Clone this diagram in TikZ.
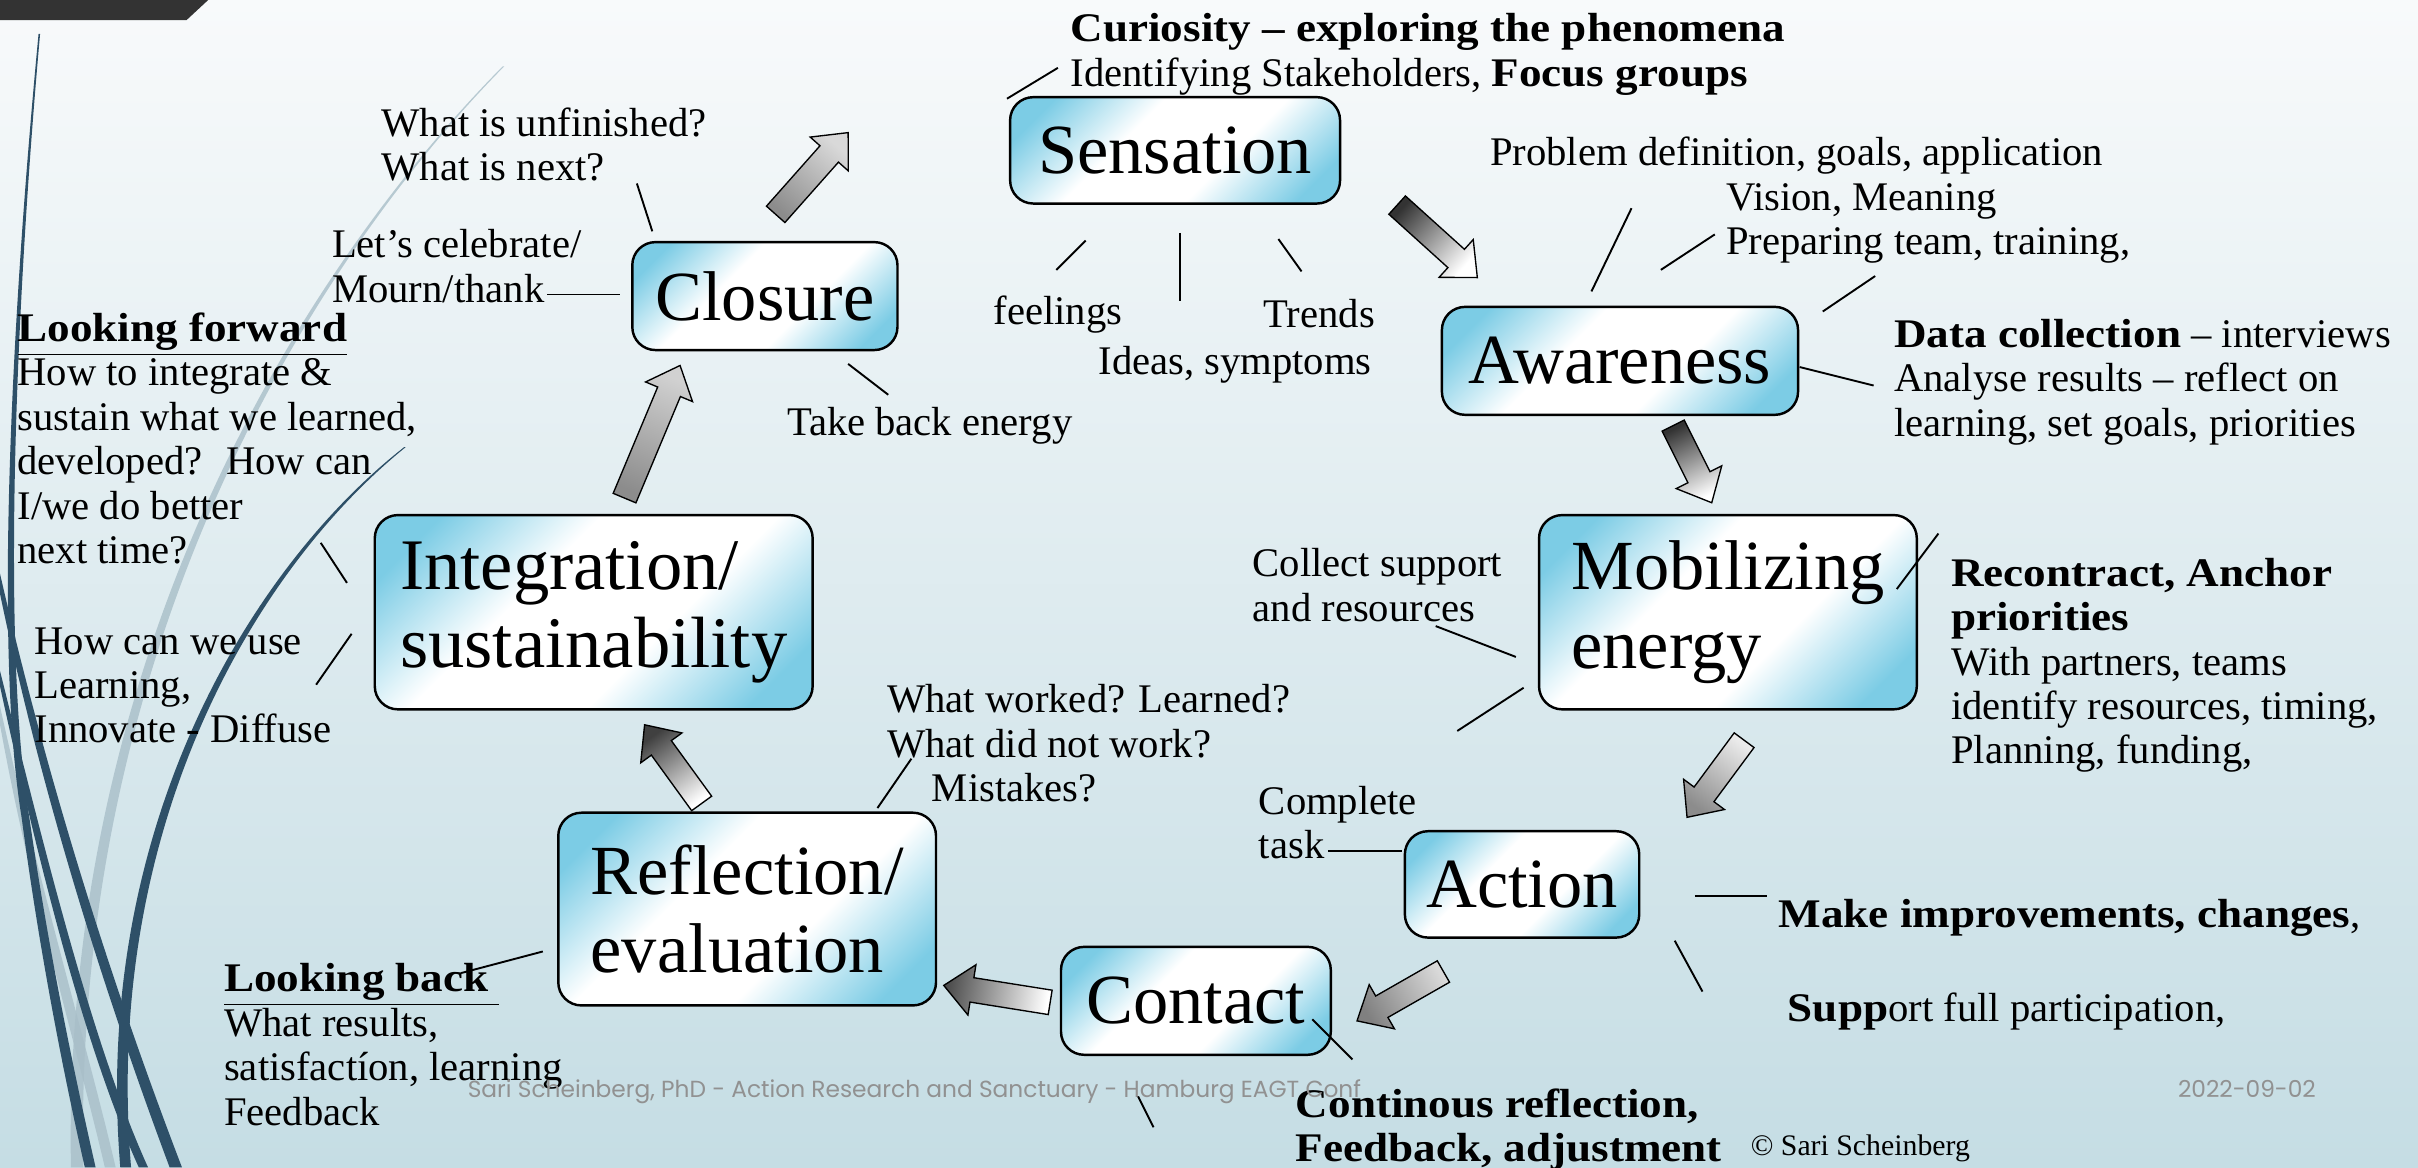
\documentclass[tikz,border=0pt]{standalone}
\usepackage{fontspec}
\setmainfont{Liberation Serif}[BoldFeatures={FakeStretch=1.11}]
\newfontfamily\footfont{Poppins}
\usetikzlibrary{calc}

\definecolor{bgtop}{RGB}{248,250,251}
\definecolor{bgmid}{RGB}{221,233,237}
\definecolor{bgbot}{RGB}{197,221,228}
\definecolor{stageblue}{RGB}{124,204,229}
\definecolor{swirldark}{RGB}{46,80,104}
\definecolor{swirllight}{RGB}{168,190,200}
\definecolor{tabgray}{RGB}{51,51,51}
\definecolor{footgray}{RGB}{145,145,145}

\pgfdeclarehorizontalshading{stageshade}{100bp}{color(0bp)=(stageblue); color(22bp)=(stageblue); color(40bp)=(white); color(60bp)=(white); color(78bp)=(stageblue); color(100bp)=(stageblue)}

\tikzset{
  stage/.style={draw=black, line width=0.9pt, rounded corners=0.3cm, shade, shading=stageshade,
    shading angle=-45, font=\fontsize{26}{29}\selectfont, align=left, inner sep=0pt},
  note/.style={font=\fontsize{15}{16.4}\selectfont, align=left, anchor=north west, inner sep=0pt},
  tick/.style={line width=0.7pt},
  flow/.style={draw=black, line width=0.5pt, line join=miter},
  footer/.style={font=\footfont\fontsize{8.6}{10}\selectfont, text=footgray, anchor=base west, inner sep=0pt},
}

% block arrow from a tail coordinate to a tip coordinate, shaded from tail colour to head colour
\newcommand\stagearrow[5]{%
  \draw[flow, bottom color=#3, top color=#4, shading angle=#5]
    ($(#1)!0.16cm!90:(#2)$)
    -- ($(#2)!0.37cm!(#1)!0.16cm!-90:(#1)$)
    -- ($(#2)!0.37cm!(#1)!0.33cm!-90:(#1)$)
    -- (#2)
    -- ($(#2)!0.37cm!(#1)!0.33cm!90:(#1)$)
    -- ($(#2)!0.37cm!(#1)!0.16cm!90:(#1)$)
    -- ($(#1)!0.16cm!-90:(#2)$)
    -- cycle;}

\begin{document}
\begin{tikzpicture}[x=0.02cm, y=-0.02cm]
\useasboundingbox (0,0) rectangle (1568,757);
\shade[top color=bgtop, middle color=bgmid, bottom color=bgbot] (0,0) rectangle (1568,757);

% decorative swirls on the left edge
\fill[swirllight, opacity=0.8] (326,43) .. controls (200,170) and (40,420) .. (46,757) -- (54,757) .. controls (47,420) and (201,171) .. (327,43) -- cycle;
\fill[swirllight, opacity=0.8] (0,470) .. controls (20,580) and (50,680) .. (68,757) -- (75,757) .. controls (57,680) and (27,580) .. (0,458) -- cycle;
\fill[swirldark] (25,22) .. controls (8,200) and (-4,420) .. (14,530) .. controls (26,620) and (42,700) .. (55,757) -- (62,757) .. controls (49,700) and (32,620) .. (19,530) .. controls (1,420) and (10,200) .. (26,22) -- cycle;
\fill[swirldark] (262,290) .. controls (160,370) and (60,540) .. (78,757) -- (85,757) .. controls (67,540) and (162,372) .. (263,290) -- cycle;
\fill[swirldark] (0,385) .. controls (28,520) and (70,650) .. (110,757) -- (118,757) .. controls (77,650) and (34,520) .. (0,372) -- cycle;
\fill[swirldark] (0,445) .. controls (25,560) and (55,680) .. (90,757) -- (96,757) .. controls (61,680) and (31,560) .. (0,435) -- cycle;

% title tab
\fill[tabgray] (0,0) -- (135,0) -- (121,13) -- (0,13) -- cycle;

% stages of the cycle
\node[stage, minimum width=4.28cm, minimum height=1.38cm] (sens) at (762,97.5) {Sensation};
\node[stage, minimum width=4.62cm, minimum height=1.40cm] (aware) at (1050.5,234) {Awareness};
\node[stage, minimum width=4.90cm, minimum height=2.52cm] (mob) at (1120.5,397) {Mobilizing\\energy};
\node[stage, minimum width=3.04cm, minimum height=1.38cm] (act) at (987,573.5) {Action};
\node[stage, minimum width=3.50cm, minimum height=1.40cm] (cont) at (775.5,649) {Contact};
\node[stage, minimum width=4.90cm, minimum height=2.50cm] (refl) at (484.5,589.5) {Reflection/\\evaluation};
\node[stage, minimum width=5.68cm, minimum height=2.52cm, font=\fontsize{26.8}{29}\selectfont] (integ) at (385,397) {Integration/\\sustainability};
\node[stage, minimum width=3.44cm, minimum height=1.40cm] (clos) at (496,192) {Closure};

% arrow end points between the stages
\coordinate (closOut) at (503,139);  \coordinate (sensIn) at (550,86);
\coordinate (sensOut) at (906,133);  \coordinate (awareIn) at (958,180);
\coordinate (awareOut) at (1085,276); \coordinate (mobIn) at (1110,326);
\coordinate (mobOut) at (1131,480);  \coordinate (actIn) at (1094,530);
\coordinate (actOut) at (936,630);   \coordinate (contIn) at (880,662);
\coordinate (contOut) at (681,650);  \coordinate (reflIn) at (612,639);
\coordinate (reflOut) at (455,521);  \coordinate (integIn) at (418,470);
\coordinate (integOut) at (405,323); \coordinate (closIn) at (441,237);

\stagearrow{closOut}{sensIn}{black!45}{black!15}{-41.2}
\stagearrow{sensOut}{awareIn}{black!80}{white}{-131.8}
\stagearrow{awareOut}{mobIn}{black!80}{white}{-153.4}
\stagearrow{mobOut}{actIn}{black!8}{black!45}{143.5}
\stagearrow{actOut}{contIn}{black!15}{black!50}{119.7}
\stagearrow{contOut}{reflIn}{white}{black!70}{81}
\stagearrow{reflOut}{integIn}{white}{black!75}{35.8}
\stagearrow{integOut}{closIn}{black!45}{black!18}{-22.7}

% notes around the cycle
\node[note] (curio) at (694,8.5) {\textbf{Curiosity – exploring the phenomena}\\Identifying Stakeholders, \textbf{Focus groups}};
\node[note] (unfin) at (247,69.5) {What is unfinished?\\What is next?};
\node[note] (celeb) at (215,148.5) {Let’s celebrate/\\Mourn/thank};
\node[note] (forward) at (11,202.5) {\underline{\textbf{Looking forward}}\\How to integrate \&\\sustain what we learned,\\developed?~ How can\\I/we do better\\next time?};
\node[note] (useit) at (22,406.5) {How can we use\\Learning,\\Innovate - Diffuse};
\node[note] (energy) at (510,263.5) {Take back energy};
\node[note] (feel) at (644,191.5) {feelings};
\node[note] (trend) at (819,193.5) {Trends};
\node[note] (ideas) at (712,224.5) {Ideas, symptoms};
\node[note] (prob) at (966,88.5) {Problem definition, goals, application};
\node[note] (vision) at (1119,118.5) {Vision, Meaning\\Preparing team, training,};
\node[note] (data) at (1228,206.5) {\textbf{Data collection} – interviews\\Analyse results – reflect on\\learning, set goals, priorities};
\node[note] (collect) at (812,355.5) {Collect support\\and resources};
\node[note] (recon) at (1265,361.5) {\textbf{Recontract, Anchor}\\\textbf{priorities}\\With partners, teams\\identify resources, timing,\\Planning, funding,};
\node[note] (worked) at (575,443.5) {What worked? Learned?\\What did not work?\\\hspace*{16.5pt}Mistakes?};
\node[note] (task) at (816,509.5) {Complete\\task};
\node[note] (improve) at (1153,582.5) {\textbf{Make improvements, changes},};
\node[note] (support) at (1159,643.5) {\textbf{Supp}ort full participation,};
\node[note] (contin) at (840,705.5) {\textbf{Continous reflection,}\\\textbf{Feedback, adjustment}};
\node[note] (back) at (145,624.5) {\underline{\textbf{Looking back}\ }\\What results,\\satisfactíon, learning\\Feedback};
\node[font=\fontsize{11}{13}\selectfont, anchor=base west, inner sep=0pt] (copy) at (1135,749) {© Sari Scheinberg};

% footer
\node[footer] (foot) at (303,712) {Sari Scheinberg, PhD - Action Research and Sanctuary - Hamburg EAGT Conf};
\node[footer] (date) at (1412,712) {2022-09-02};

% short connector strokes
\coordinate (k1a) at (653,64);   \coordinate (k1b) at (686,44);
\coordinate (k2a) at (413,119);  \coordinate (k2b) at (423,150);
\coordinate (k3a) at (355,191);  \coordinate (k3b) at (402,191);
\coordinate (k4a) at (550,236);  \coordinate (k4b) at (576,256);
\coordinate (k5a) at (685,175);  \coordinate (k5b) at (704,156);
\coordinate (k6a) at (765,151);  \coordinate (k6b) at (765,195);
\coordinate (k7a) at (829,155);  \coordinate (k7b) at (844,176);
\coordinate (k8a) at (1058,135); \coordinate (k8b) at (1032,189);
\coordinate (k9a) at (1112,152); \coordinate (k9b) at (1077,175);
\coordinate (k10a) at (1216,179); \coordinate (k10b) at (1182,202);
\coordinate (k11a) at (1167,238); \coordinate (k11b) at (1215,250);
\coordinate (k12a) at (1257,346); \coordinate (k12b) at (1230,382);
\coordinate (k13a) at (931,406);  \coordinate (k13b) at (983,426);
\coordinate (k14a) at (988,446);  \coordinate (k14b) at (945,474);
\coordinate (k15a) at (861,552);  \coordinate (k15b) at (909,552);
\coordinate (k16a) at (1099,581); \coordinate (k16b) at (1146,581);
\coordinate (k17a) at (1086,610); \coordinate (k17b) at (1104,643);
\coordinate (k18a) at (851,661);  \coordinate (k18b) at (877,687);
\coordinate (k19a) at (738,711);  \coordinate (k19b) at (748,731);
\coordinate (k20a) at (591,492);  \coordinate (k20b) at (569,524);
\coordinate (k21a) at (352,617);  \coordinate (k21b) at (299,631);
\coordinate (k22a) at (208,352);  \coordinate (k22b) at (225,378);
\coordinate (k23a) at (228,411);  \coordinate (k23b) at (205,444);
\foreach \k in {1,...,23} \draw[tick] (k\k a) -- (k\k b);

\end{tikzpicture}
\end{document}
